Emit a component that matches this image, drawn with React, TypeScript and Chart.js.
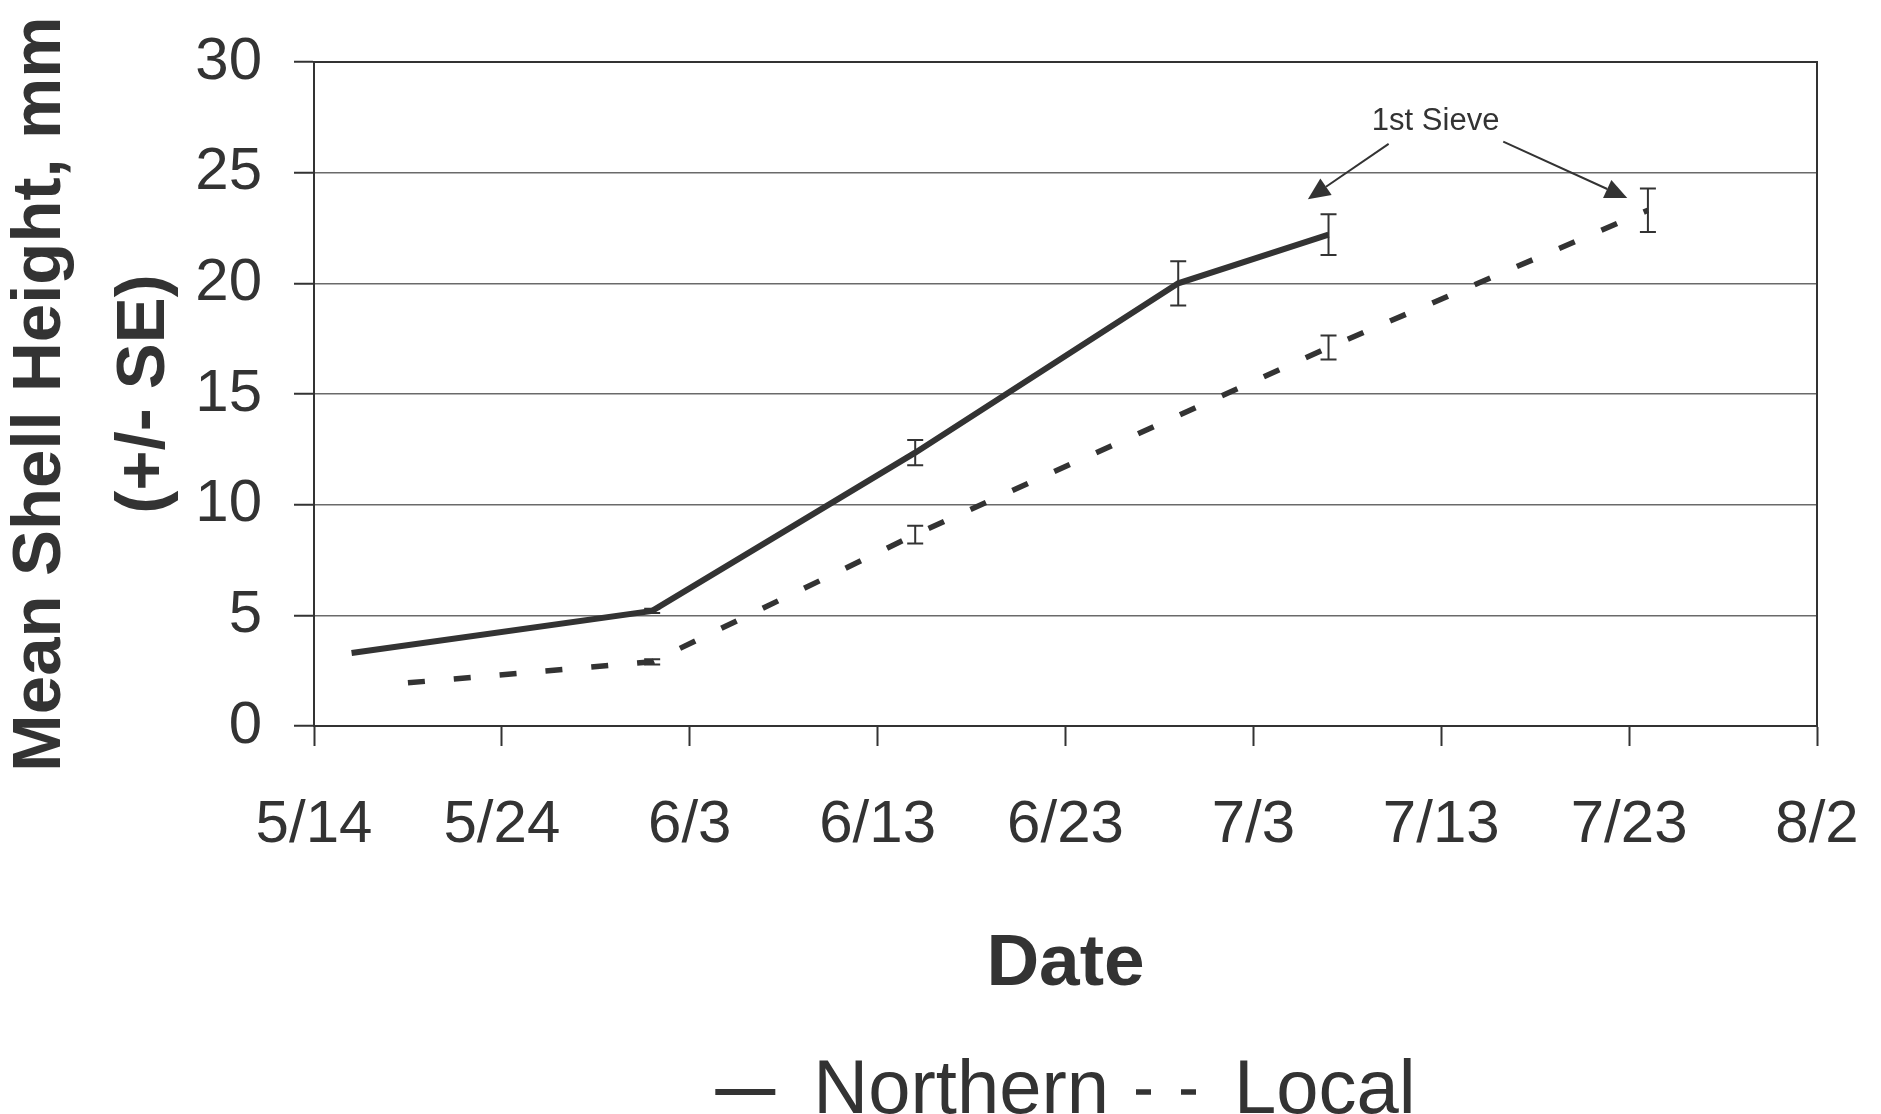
import React, { useEffect, useRef } from 'react';
import { Chart, registerables } from 'chart.js';

Chart.register(...registerables);

// x positions are days after 5/14
const tickLabels = ['5/14', '5/24', '6/3', '6/13', '6/23', '7/3', '7/13', '7/23', '8/2'];
const northernDays = [2, 18, 32, 46, 54];
const northernMean = [3.3, 5.2, 12.35, 20.0, 22.2];
const northernSE = [0, 0.1, 0.57, 1.0, 0.92];
const localDays = [5, 18, 32, 54, 71];
const localMean = [1.95, 2.9, 8.65, 17.1, 23.3];
const localSE = [0, 0.12, 0.4, 0.54, 0.98];
const sieveLabel = '1st Sieve';
const sieveLabelAt = [59.7, 27.3];
const sieveArrowFrom = [[57.2, 26.3], [63.3, 26.4]];
const sieveArrowTo = [[52.9, 23.8], [69.9, 23.85]];

const FONT = "'Liberation Sans', Arial, Helvetica, sans-serif";
const INK = '#333333';

const framePlugin = {
  id: 'frame',
  afterDraw(chart: any) {
    const { ctx, chartArea } = chart;
    ctx.save();
    ctx.strokeStyle = INK;
    ctx.lineWidth = 2;
    ctx.setLineDash([]);
    ctx.beginPath();
    ctx.moveTo(chartArea.left, chartArea.top);
    ctx.lineTo(chartArea.right, chartArea.top);
    ctx.lineTo(chartArea.right, chartArea.bottom);
    ctx.stroke();
    ctx.restore();
  },
};

const errorBarPlugin = {
  id: 'errorBars',
  afterDatasetsDraw(chart: any) {
    const { ctx, scales } = chart;
    const x = scales.x;
    const y = scales.y;
    ctx.save();
    ctx.strokeStyle = INK;
    ctx.lineWidth = 2;
    ctx.setLineDash([]);
    chart.data.datasets.forEach((ds: any) => {
      const errs: number[] = ds.errors || [];
      ds.data.forEach((pt: any, i: number) => {
        const se = errs[i];
        if (!se) return;
        const px = x.getPixelForValue(pt.x);
        const top = y.getPixelForValue(pt.y + se);
        const bot = y.getPixelForValue(pt.y - se);
        ctx.beginPath();
        ctx.moveTo(px, top);
        ctx.lineTo(px, bot);
        ctx.moveTo(px - 8, top);
        ctx.lineTo(px + 8, top);
        ctx.moveTo(px - 8, bot);
        ctx.lineTo(px + 8, bot);
        ctx.stroke();
      });
    });
    ctx.restore();
  },
};

const annotationPlugin = {
  id: 'sieveNote',
  afterDatasetsDraw(chart: any) {
    const { ctx, scales } = chart;
    const x = scales.x;
    const y = scales.y;
    ctx.save();
    ctx.fillStyle = INK;
    ctx.strokeStyle = INK;
    ctx.lineWidth = 2;
    ctx.setLineDash([]);
    ctx.font = `31px ${FONT}`;
    ctx.textAlign = 'center';
    ctx.textBaseline = 'middle';
    ctx.fillText(sieveLabel, x.getPixelForValue(sieveLabelAt[0]), y.getPixelForValue(sieveLabelAt[1]));
    sieveArrowFrom.forEach((from, i) => {
      const to = sieveArrowTo[i];
      const x0 = x.getPixelForValue(from[0]);
      const y0 = y.getPixelForValue(from[1]);
      const x1 = x.getPixelForValue(to[0]);
      const y1 = y.getPixelForValue(to[1]);
      const ang = Math.atan2(y1 - y0, x1 - x0);
      const headLen = 22;
      const headHalf = 10;
      const bx = x1 - Math.cos(ang) * headLen;
      const by = y1 - Math.sin(ang) * headLen;
      ctx.beginPath();
      ctx.moveTo(x0, y0);
      ctx.lineTo(bx, by);
      ctx.stroke();
      ctx.beginPath();
      ctx.moveTo(x1, y1);
      ctx.lineTo(bx + Math.sin(ang) * headHalf, by - Math.cos(ang) * headHalf);
      ctx.lineTo(bx - Math.sin(ang) * headHalf, by + Math.cos(ang) * headHalf);
      ctx.closePath();
      ctx.fill();
    });
    ctx.restore();
  },
};

export default function App() {
  const canvasRef = useRef<HTMLCanvasElement | null>(null);

  useEffect(() => {
    const canvas = canvasRef.current;
    if (!canvas) return;
    Chart.defaults.font.family = FONT;
    Chart.defaults.color = INK;

    const chart = new Chart(canvas, {
      type: 'line',
      data: {
        datasets: [
          {
            label: 'Northern',
            data: northernDays.map((d, i) => ({ x: d, y: northernMean[i] })),
            errors: northernSE,
            borderColor: INK,
            backgroundColor: INK,
            borderWidth: 6,
            pointRadius: 0,
            tension: 0,
            fill: false,
          } as any,
          {
            label: 'Local',
            data: localDays.map((d, i) => ({ x: d, y: localMean[i] })),
            errors: localSE,
            borderColor: INK,
            backgroundColor: INK,
            borderWidth: 5.5,
            borderDash: [17, 29],
            pointRadius: 0,
            tension: 0,
            fill: false,
          } as any,
        ],
      },
      options: {
        responsive: false,
        animation: false,
        devicePixelRatio: 1,
        layout: { padding: { left: 0, right: 64, top: 62, bottom: -26 } },
        plugins: {
          tooltip: { enabled: false },
          title: { display: false },
          legend: {
            display: true,
            position: 'bottom',
            fullSize: false,
            labels: {
              usePointStyle: true,
              pointStyle: 'line',
              pointStyleWidth: 60,
              padding: 27,
              color: INK,
              font: { size: 76, family: FONT },
              generateLabels: (c: any) => {
                const items = Chart.defaults.plugins.legend.labels.generateLabels(c);
                items.forEach((it: any) => {
                  const ds = c.data.datasets[it.datasetIndex];
                  it.pointStyle = 'line';
                  it.lineWidth = ds.borderWidth;
                  it.strokeStyle = ds.borderColor;
                  it.lineDash = ds.borderDash ? [15, 30] : [];
                });
                return items;
              },
            },
          },
        },
        scales: {
          x: {
            type: 'linear',
            position: 'bottom',
            min: 0,
            max: 80,
            afterFit: (s: any) => { s.height = 301; },
            ticks: {
              stepSize: 10,
              autoSkip: false,
              maxRotation: 0,
              padding: 7,
              color: INK,
              font: { size: 60, family: FONT, lineHeight: 2.4 },
              callback: (v: any) => tickLabels[Math.round(Number(v) / 10)] ?? '',
            },
            grid: {
              drawOnChartArea: false,
              drawTicks: true,
              tickLength: 20,
              tickColor: INK,
              tickWidth: 2,
            },
            border: { display: true, color: INK, width: 2 },
            title: {
              display: true,
              text: 'Date',
              color: INK,
              font: { size: 73, weight: 'bold', family: FONT, lineHeight: 1.2 },
              padding: { top: 0, bottom: 18 },
            },
          },
          y: {
            type: 'linear',
            position: 'left',
            min: 0,
            max: 30,
            afterFit: (s: any) => { s.width = 314; },
            ticks: {
              stepSize: 5,
              padding: 32,
              color: INK,
              font: { size: 60, family: FONT, lineHeight: 0.9 },
            },
            grid: {
              drawOnChartArea: true,
              color: '#6a6a6a',
              lineWidth: 1.5,
              drawTicks: true,
              tickLength: 20,
              tickColor: INK,
              tickWidth: 2,
            },
            border: { display: true, color: INK, width: 2 },
            title: {
              display: true,
              text: ['Mean Shell Height, mm', '(+/- SE)'],
              color: INK,
              font: { size: 69, weight: 'bold', family: FONT, lineHeight: 1.5 },
              padding: { top: -10.75, bottom: 0 },
            },
          },
        },
      } as any,
      plugins: [framePlugin, errorBarPlugin, annotationPlugin],
    });

    return () => {
      chart.destroy();
    };
  }, []);

  return (
    <div style={{ position: 'absolute', left: 0, top: 0, width: 1881, height: 1114, background: '#ffffff' }}>
      <canvas
        ref={canvasRef}
        width={1881}
        height={1114}
        style={{ display: 'block', width: 1881, height: 1114 }}
      />
    </div>
  );
}
